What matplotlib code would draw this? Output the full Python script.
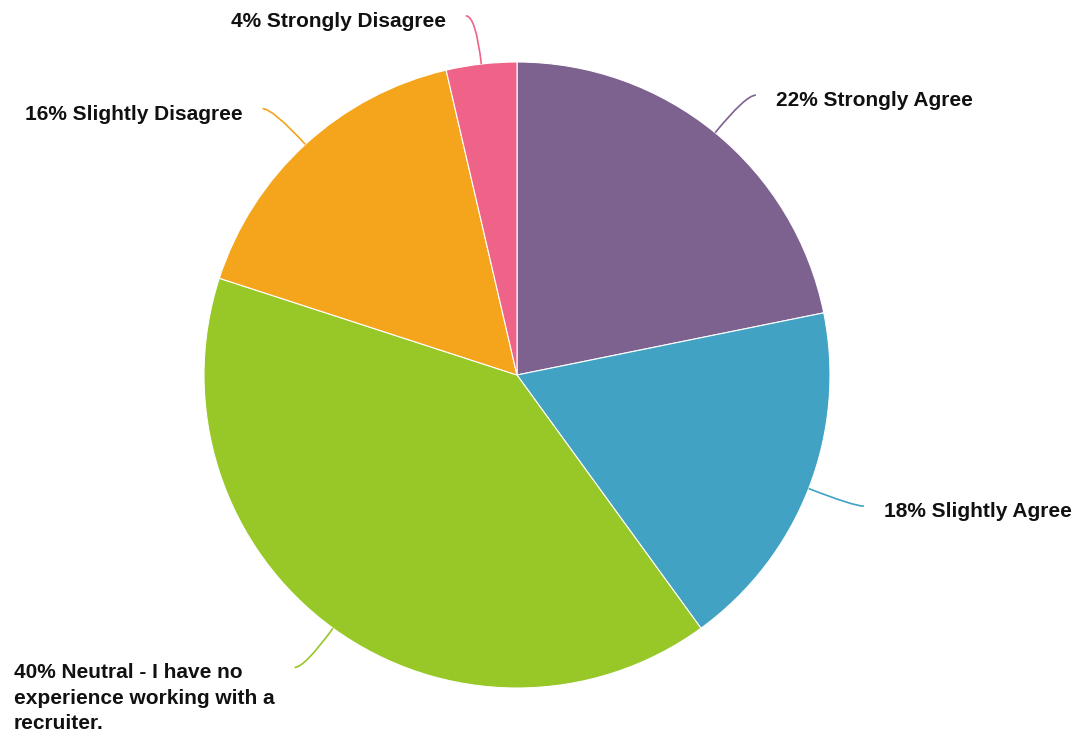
import numpy as np
import matplotlib
matplotlib.use("Agg")
import matplotlib.pyplot as plt
from matplotlib.path import Path
from matplotlib.patches import PathPatch

# Survey responses (counts), drawn clockwise from 12 o'clock
categories = ["Strongly Agree", "Slightly Agree",
              "Neutral - I have no\nexperience working with a\nrecruiter.",
              "Slightly Disagree", "Strongly Disagree"]
counts = [12, 10, 22, 9, 2]
colors = ["#7d618f", "#41a2c3", "#97c828", "#f4a51c", "#f06388"]

W, H = 1083, 741
cx, cy, R = 517, 375, 313  # pie centre and radius in pixels

fig = plt.figure(figsize=(W / 100, H / 100), dpi=100)
ax = fig.add_axes([0, 0, 1, 1])

wedges, _ = ax.pie(counts, colors=colors, startangle=90, counterclock=False,
                   radius=1, wedgeprops=dict(edgecolor="white", linewidth=0.8))

ax.set_xlim(-cx / R, (W - cx) / R)
ax.set_ylim(-(H - cy) / R, cy / R)
ax.set_aspect("auto")
ax.axis("off")

total = sum(counts)
px = 1 / R  # one pixel in data units

for wedge, cat, n, col in zip(wedges, categories, counts, colors):
    mid = np.deg2rad((wedge.theta1 + wedge.theta2) / 2)
    c, s = np.cos(mid), np.sin(mid)
    side = 1 if c >= 0 else -1

    # leader leaves the rim radially and hooks to horizontal
    p0 = (c, s)
    p1 = (1.155 * c, 1.155 * s)
    p2 = (p1[0] + side * 10 * px, p1[1])
    path = Path([p0, p1, p2], [Path.MOVETO, Path.CURVE3, Path.CURVE3])
    ax.add_patch(PathPatch(path, facecolor="none", edgecolor=col, lw=1.2))

    pct = round(100 * n / total)
    label = f"{pct}% {cat}"
    tx = p2[0] + side * 20 * px
    ax.text(tx, p2[1] + 4 * px, label, ha="left" if side > 0 else "right",
            va="top", ma="left", fontsize=15, fontweight="bold",
            family="Liberation Sans", color="#111111", linespacing=1.42)

fig.savefig("out.png", dpi=100, facecolor="white")
